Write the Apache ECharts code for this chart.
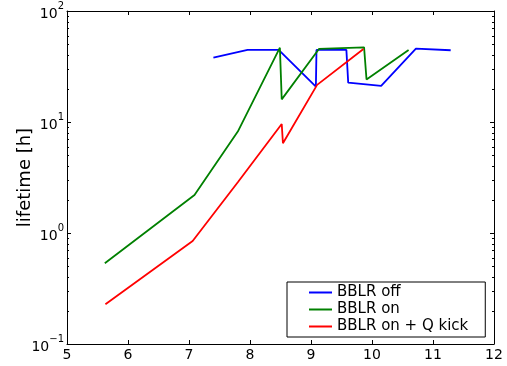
<!DOCTYPE html>
<html>
<head>
<meta charset="utf-8">
<script src="https://cdn.jsdelivr.net/npm/echarts@6/dist/echarts.min.js"></script>
<style>
  html, body { margin: 0; padding: 0; background: #fff; }
  #chart { width: 507px; height: 366px; }
</style>
</head>
<body>
<div id="chart"></div>
<script>
// 数据（从图上读出来的）
var offX = [7.40, 7.96, 8.47, 9.08, 9.09, 9.58, 9.61, 10.15, 10.72, 11.29];
var offY = [38, 44.6, 44.6, 20.8, 44.6, 44.6, 22.6, 21.2, 45.8, 44.3];
var onX = [5.62, 7.09, 7.80, 8.49, 8.52, 9.13, 9.87, 9.91, 10.60];
var onY = [0.533, 2.2, 8.2, 46.7, 16.0, 45.5, 47.1, 24.2, 44.6];
var kickX = [5.63, 7.06, 7.80, 8.52, 8.54, 9.10, 9.86];
var kickY = [0.228, 0.847, 2.87, 9.6, 6.43, 21.6, 45.5];
var seriesNames = ["BBLR off", "BBLR on", "BBLR on + Q kick"];
var xTicks = [5, 6, 7, 8, 9, 10, 11, 12];
var yDecades = [0.1, 1, 10, 100];
// 对数轴的小刻度 2..9
var minorTicks = [];
for (var d = 0; d < yDecades.length - 1; d++) {
  for (var k = 2; k <= 9; k++) minorTicks.push(k * yDecades[d]);
}

function zip(xs, ys) {
  return xs.map(function (x, i) { return [x, ys[i]]; });
}

var font = "DejaVu Sans";
var chart = echarts.init(document.getElementById("chart"));

var option = {
  animation: false,
  grid: { left: 67, top: 11, right: 13, bottom: 22, outerBoundsMode: "none", containLabel: false },
  legend: {
    left: 287,
    top: 282,
    orient: "vertical",
    data: seriesNames,
    backgroundColor: "#fff",
    borderColor: "#000",
    borderWidth: 1,
    borderRadius: 0,
    padding: [2, 17, 2, 22],
    itemGap: 0,
    itemWidth: 23,
    itemHeight: 2,
    icon: "rect",
    textStyle: { fontFamily: font, fontSize: 15, color: "#000", lineHeight: 17 }
  },
  xAxis: [
    {
      type: "value",
      min: xTicks[0],
      max: xTicks[xTicks.length - 1],
      interval: 1,
      axisLine: { lineStyle: { color: "#000", width: 1 } },
      axisTick: { inside: true, length: 4, lineStyle: { color: "#000" } },
      axisLabel: { fontFamily: font, fontSize: 14, color: "#000", margin: 4 },
      splitLine: { show: false }
    },
    {
      type: "value",
      position: "top",
      min: xTicks[0],
      max: xTicks[xTicks.length - 1],
      interval: 1,
      axisLine: { lineStyle: { color: "#000", width: 1 } },
      axisTick: { inside: true, length: 4, lineStyle: { color: "#000" } },
      axisLabel: { show: false },
      splitLine: { show: false }
    }
  ],
  yAxis: [
    {
      type: "log",
      logBase: 10,
      min: yDecades[0],
      max: yDecades[yDecades.length - 1],
      splitNumber: 3,
      name: "lifetime [h]",
      nameLocation: "middle",
      nameGap: 33,
      nameMoveOverlap: false,
      nameTextStyle: { fontFamily: font, fontSize: 18, color: "#000" },
      axisLine: { show: true, lineStyle: { color: "#000", width: 1 } },
      axisTick: { inside: true, length: 4, lineStyle: { color: "#000" } },
      axisLabel: {
        fontFamily: font,
        color: "#000",
        margin: 3,
        formatter: function (v) {
          var e = Math.round(Math.log10(v));
          return "{b|10}{s|" + String(e).replace("-", "\u2212") + "}";
        },
        rich: {
          b: { fontFamily: font, fontSize: 14, color: "#000", lineHeight: 20, verticalAlign: "bottom" },
          s: { fontFamily: font, fontSize: 10, color: "#000", lineHeight: 20, verticalAlign: "top" }
        }
      },
      splitLine: { show: false }
    },
    {
      type: "log",
      logBase: 10,
      position: "right",
      min: yDecades[0],
      max: yDecades[yDecades.length - 1],
      splitNumber: 3,
      axisLine: { show: true, lineStyle: { color: "#000", width: 1 } },
      axisTick: { inside: true, length: 4, lineStyle: { color: "#000" } },
      axisLabel: { show: false },
      splitLine: { show: false }
    }
  ],
  series: [
    {
      name: seriesNames[0],
      type: "line",
      data: zip(offX, offY),
      symbol: "none",
      color: "#0000ff",
      lineStyle: { width: 1.8 }
    },
    {
      name: seriesNames[1],
      type: "line",
      data: zip(onX, onY),
      symbol: "none",
      color: "#008000",
      lineStyle: { width: 1.8 }
    },
    {
      name: seriesNames[2],
      type: "line",
      data: zip(kickX, kickY),
      symbol: "none",
      color: "#ff0000",
      lineStyle: { width: 1.8 }
    },
    {
      // 左右两边的小刻度
      type: "custom",
      silent: true,
      data: minorTicks.map(function (v) { return [xTicks[0], v]; }),
      renderItem: function (params, api) {
        var y = api.value(1);
        var pl = api.coord([xTicks[0], y]);
        var pr = api.coord([xTicks[xTicks.length - 1], y]);
        var st = { stroke: "#000", lineWidth: 1 };
        return {
          type: "group",
          children: [
            { type: "line", shape: { x1: pl[0], y1: Math.round(pl[1]) + 0.5, x2: pl[0] + 2, y2: Math.round(pl[1]) + 0.5 }, style: st },
            { type: "line", shape: { x1: pr[0], y1: Math.round(pr[1]) + 0.5, x2: pr[0] - 2, y2: Math.round(pr[1]) + 0.5 }, style: st }
          ]
        };
      }
    }
  ]
};

chart.setOption(option);
</script>
</body>
</html>
